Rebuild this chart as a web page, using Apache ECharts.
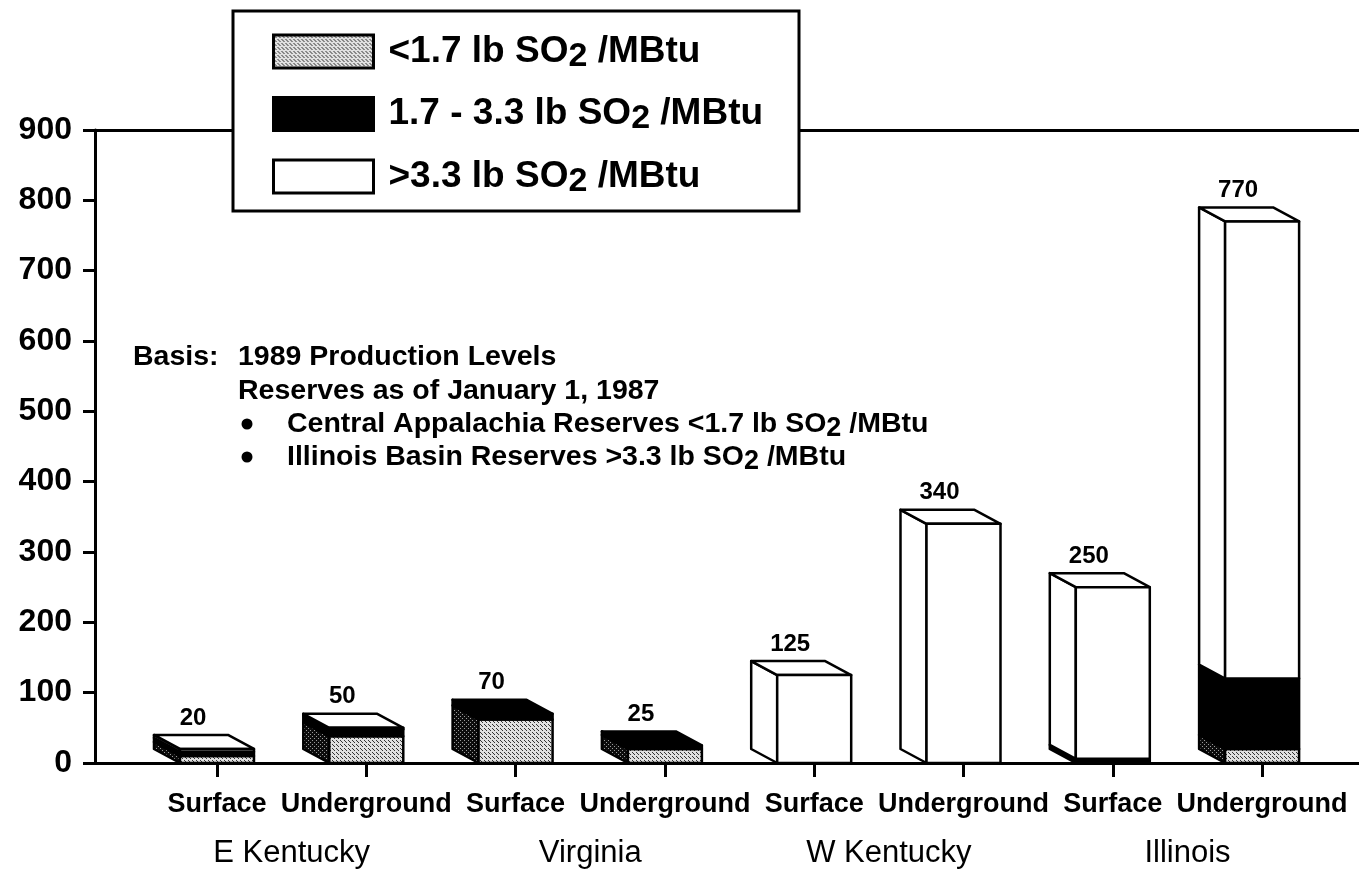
<!DOCTYPE html>
<html>
<head>
<meta charset="utf-8">
<script src="https://cdn.jsdelivr.net/npm/echarts@6/dist/echarts.min.js"></script>
<style>
  html, body { margin: 0; padding: 0; background: #fff; }
  #chart { width: 1359px; height: 872px; }
</style>
</head>
<body>
<div id="chart"></div>
<script>
// Coal reserve life by mine type and region, split by sulfur content
const mineTypes = ['Surface', 'Underground', 'Surface', 'Underground', 'Surface', 'Underground', 'Surface', 'Underground'];
const regions = ['E Kentucky', 'Virginia', 'W Kentucky', 'Illinois'];
const seriesNames = ['<1.7 lb SO2 /MBtu', '1.7 - 3.3 lb SO2 /MBtu', '>3.3 lb SO2 /MBtu'];
const lowSulfur = [10, 38, 62, 20, 0, 0, 0, 20];
const midSulfur = [6, 10, 8, 5, 0, 0, 6, 100];
const highSulfur = [4, 2, 0, 0, 125, 340, 244, 650];
const yTicks = [0, 100, 200, 300, 400, 500, 600, 700, 800, 900];
const notes = [
  'Basis:',
  '1989 Production Levels',
  'Reserves as of January 1, 1987',
  'Central Appalachia Reserves <1.7 lb SO2 /MBtu',
  'Illinois Basin Reserves >3.3 lb SO2 /MBtu'
];

const FONT = '"Liberation Sans", Arial, Helvetica, sans-serif';

// dotted screen fills
function dotCanvas(bg, dot, size, pts) {
  const c = document.createElement('canvas');
  c.width = c.height = size;
  const g = c.getContext('2d');
  g.fillStyle = bg; g.fillRect(0, 0, size, size);
  g.fillStyle = dot;
  pts.forEach(p => g.fillRect(p[0], p[1], 1, 1));
  return c;
}
const stipple = { image: dotCanvas('#e0e0e0', '#333', 4, [[0, 0], [2, 2], [1, 1]]), repeat: 'repeat' };
const stippleDark = { image: dotCanvas('#0c0c0c', '#9a9a9a', 4, [[0, 0], [2, 2]]), repeat: 'repeat' };

const layers = [
  { values: lowSulfur, front: stipple, side: stippleDark, top: stipple },
  { values: midSulfur, front: '#000', side: '#000', top: '#000' },
  { values: highSulfur, front: '#fff', side: '#fff', top: '#fff' }
];

// box geometry (pixels)
const FACE_W = 74, DX = -26, DY = -14;

// x value range so that categories sit at integer positions
const XMIN = -0.817, XMAX = 7.649;
const catTicks = mineTypes.map((_, i) => i);
const regionTicks = regions.map((_, i) => i * 2 + 0.5);

function subText(str, main, sub) {
  const k = str.indexOf('SO2');
  if (k < 0) return '{' + main + '|' + str + '}';
  return '{' + main + '|' + str.slice(0, k) + 'SO}{' + sub + '|2}{' + main + '|' + str.slice(k + 3) + '}';
}

function buildData(li) {
  return mineTypes.map((_, i) => {
    let start = 0;
    for (let j = 0; j < li; j++) start += layers[j].values[i];
    const end = start + layers[li].values[i];
    let topLayer = 0;
    layers.forEach((l, j) => { if (l.values[i] > 0) topLayer = j; });
    const total = layers.reduce((s, l) => s + l.values[i], 0);
    return [i, start, end, topLayer === li ? 1 : 0, total];
  });
}

function makeRender(li) {
  const L = layers[li];
  return function (params, api) {
    const xi = api.value(0), v0 = api.value(1), v1 = api.value(2);
    const isTop = api.value(3), total = api.value(4);
    if (!(v1 > v0)) return null;
    const pb = api.coord([xi, v0]);
    const pt = api.coord([xi, v1]);
    const cx = pb[0];
    const x0 = cx - FACE_W / 2, x1 = cx + FACE_W / 2;
    const yb = pb[1], yt = pt[1];
    const stroke = { stroke: '#000', lineWidth: 2.5, lineJoin: 'round' };
    const children = [
      {
        type: 'polygon',
        shape: { points: [[x0, yb], [x0, yt], [x0 + DX, yt + DY], [x0 + DX, yb + DY]] },
        style: Object.assign({ fill: L.side }, stroke)
      }
    ];
    if (isTop) {
      children.push({
        type: 'polygon',
        shape: { points: [[x0, yt], [x1, yt], [x1 + DX, yt + DY], [x0 + DX, yt + DY]] },
        style: Object.assign({ fill: L.top }, stroke)
      });
    }
    children.push({
      type: 'rect',
      shape: { x: x0, y: yt, width: FACE_W, height: yb - yt },
      style: Object.assign({ fill: L.front }, stroke)
    });
    if (isTop) {
      children.push({
        type: 'text',
        style: {
          text: String(total),
          x: cx - 24, y: yt + DY - 5,
          align: 'center', verticalAlign: 'bottom',
          font: 'bold 24px ' + FONT, fill: '#000'
        }
      });
    }
    return { type: 'group', children };
  };
}

const chart = echarts.init(document.getElementById('chart'), null, { renderer: 'canvas' });

const axisLineStyle = { color: '#000', width: 3 };

const noteRich = {
  t: { fontSize: 28.5, fontWeight: 'bold', fontFamily: FONT, color: '#000', lineHeight: 36, verticalAlign: 'middle' },
  s: { fontSize: 27, fontWeight: 'bold', fontFamily: FONT, color: '#000', lineHeight: 22, verticalAlign: 'bottom' }
};
function noteText(str, x, y) {
  return {
    type: 'text', x: x, y: y, z: 5,
    style: { text: subText(str, 't', 's'), rich: noteRich, verticalAlign: 'middle', align: 'left' }
  };
}
function bullet(x, y) {
  return { type: 'circle', z: 5, shape: { cx: x, cy: y, r: 5.5 }, style: { fill: '#000' } };
}

const option = {
  animation: false,
  backgroundColor: '#fff',
  grid: { left: 95, right: 0, top: 130, bottom: 109, containLabel: false },
  xAxis: [
    {
      type: 'value', min: XMIN, max: XMAX, position: 'bottom',
      axisLine: { show: true, onZero: false, lineStyle: axisLineStyle },
      axisTick: { show: true, customValues: catTicks, length: 14, lineStyle: axisLineStyle },
      axisLabel: {
        customValues: catTicks, formatter: v => mineTypes[Math.round(v)],
        color: '#000', fontSize: 27, fontWeight: 'bold', fontFamily: FONT, margin: 28
      },
      splitLine: { show: false }
    },
    {
      type: 'value', min: XMIN, max: XMAX, position: 'bottom',
      axisLine: { show: false }, axisTick: { show: false },
      axisLabel: {
        customValues: regionTicks, formatter: v => regions[Math.floor(v / 2)],
        color: '#000', fontSize: 31, fontFamily: FONT, margin: 75
      },
      splitLine: { show: false }
    },
    {
      type: 'value', min: XMIN, max: XMAX, position: 'top',
      axisLine: { show: true, onZero: false, lineStyle: axisLineStyle },
      axisTick: { show: false }, axisLabel: { show: false }, splitLine: { show: false }
    }
  ],
  yAxis: {
    type: 'value', min: yTicks[0], max: yTicks[yTicks.length - 1], interval: 100,
    axisLine: { show: true, onZero: false, lineStyle: axisLineStyle },
    axisTick: { show: true, length: 12, lineStyle: axisLineStyle },
    axisLabel: { color: '#000', fontSize: 32, fontWeight: 'bold', fontFamily: FONT, margin: 23 },
    splitLine: { show: false }
  },
  legend: {
    orient: 'vertical', left: 272, top: 33, z: 20,
    padding: 0, itemWidth: 100, itemHeight: 33, itemGap: 22, itemTextGap: 16,
    selectedMode: false,
    data: seriesNames.map((n, i) => ({
      name: n, icon: 'rect',
      itemStyle: { color: layers[i].front, borderColor: '#000', borderWidth: 3 }
    })),
    formatter: name => '{g|}' + subText(name, 't', 's'),
    textStyle: {
      rich: {
        g: { width: 10, lineHeight: 44 },
        t: { fontSize: 37, fontWeight: 'bold', fontFamily: FONT, color: '#000', lineHeight: 44, verticalAlign: 'middle' },
        s: { fontSize: 34, fontWeight: 'bold', fontFamily: FONT, color: '#000', lineHeight: 26, verticalAlign: 'bottom' }
      }
    }
  },
  graphic: [
    {
      type: 'rect', z: 10,
      shape: { x: 233, y: 11, width: 566, height: 200 },
      style: { fill: '#fff', stroke: '#000', lineWidth: 3 }
    },
    noteText(notes[0], 133, 357),
    noteText(notes[1], 238, 357),
    noteText(notes[2], 238, 391),
    bullet(247, 424),
    noteText(notes[3], 287, 424),
    bullet(247, 457),
    noteText(notes[4], 287, 457)
  ],
  series: layers.map((l, li) => ({
    type: 'custom',
    name: seriesNames[li],
    xAxisIndex: 0, yAxisIndex: 0,
    renderItem: makeRender(li),
    itemStyle: { color: l.front, borderColor: '#000', borderWidth: 3 },
    encode: { x: 0, y: [1, 2] },
    data: buildData(li),
    z: 2 + li
  }))
};

chart.setOption(option);
</script>
</body>
</html>
